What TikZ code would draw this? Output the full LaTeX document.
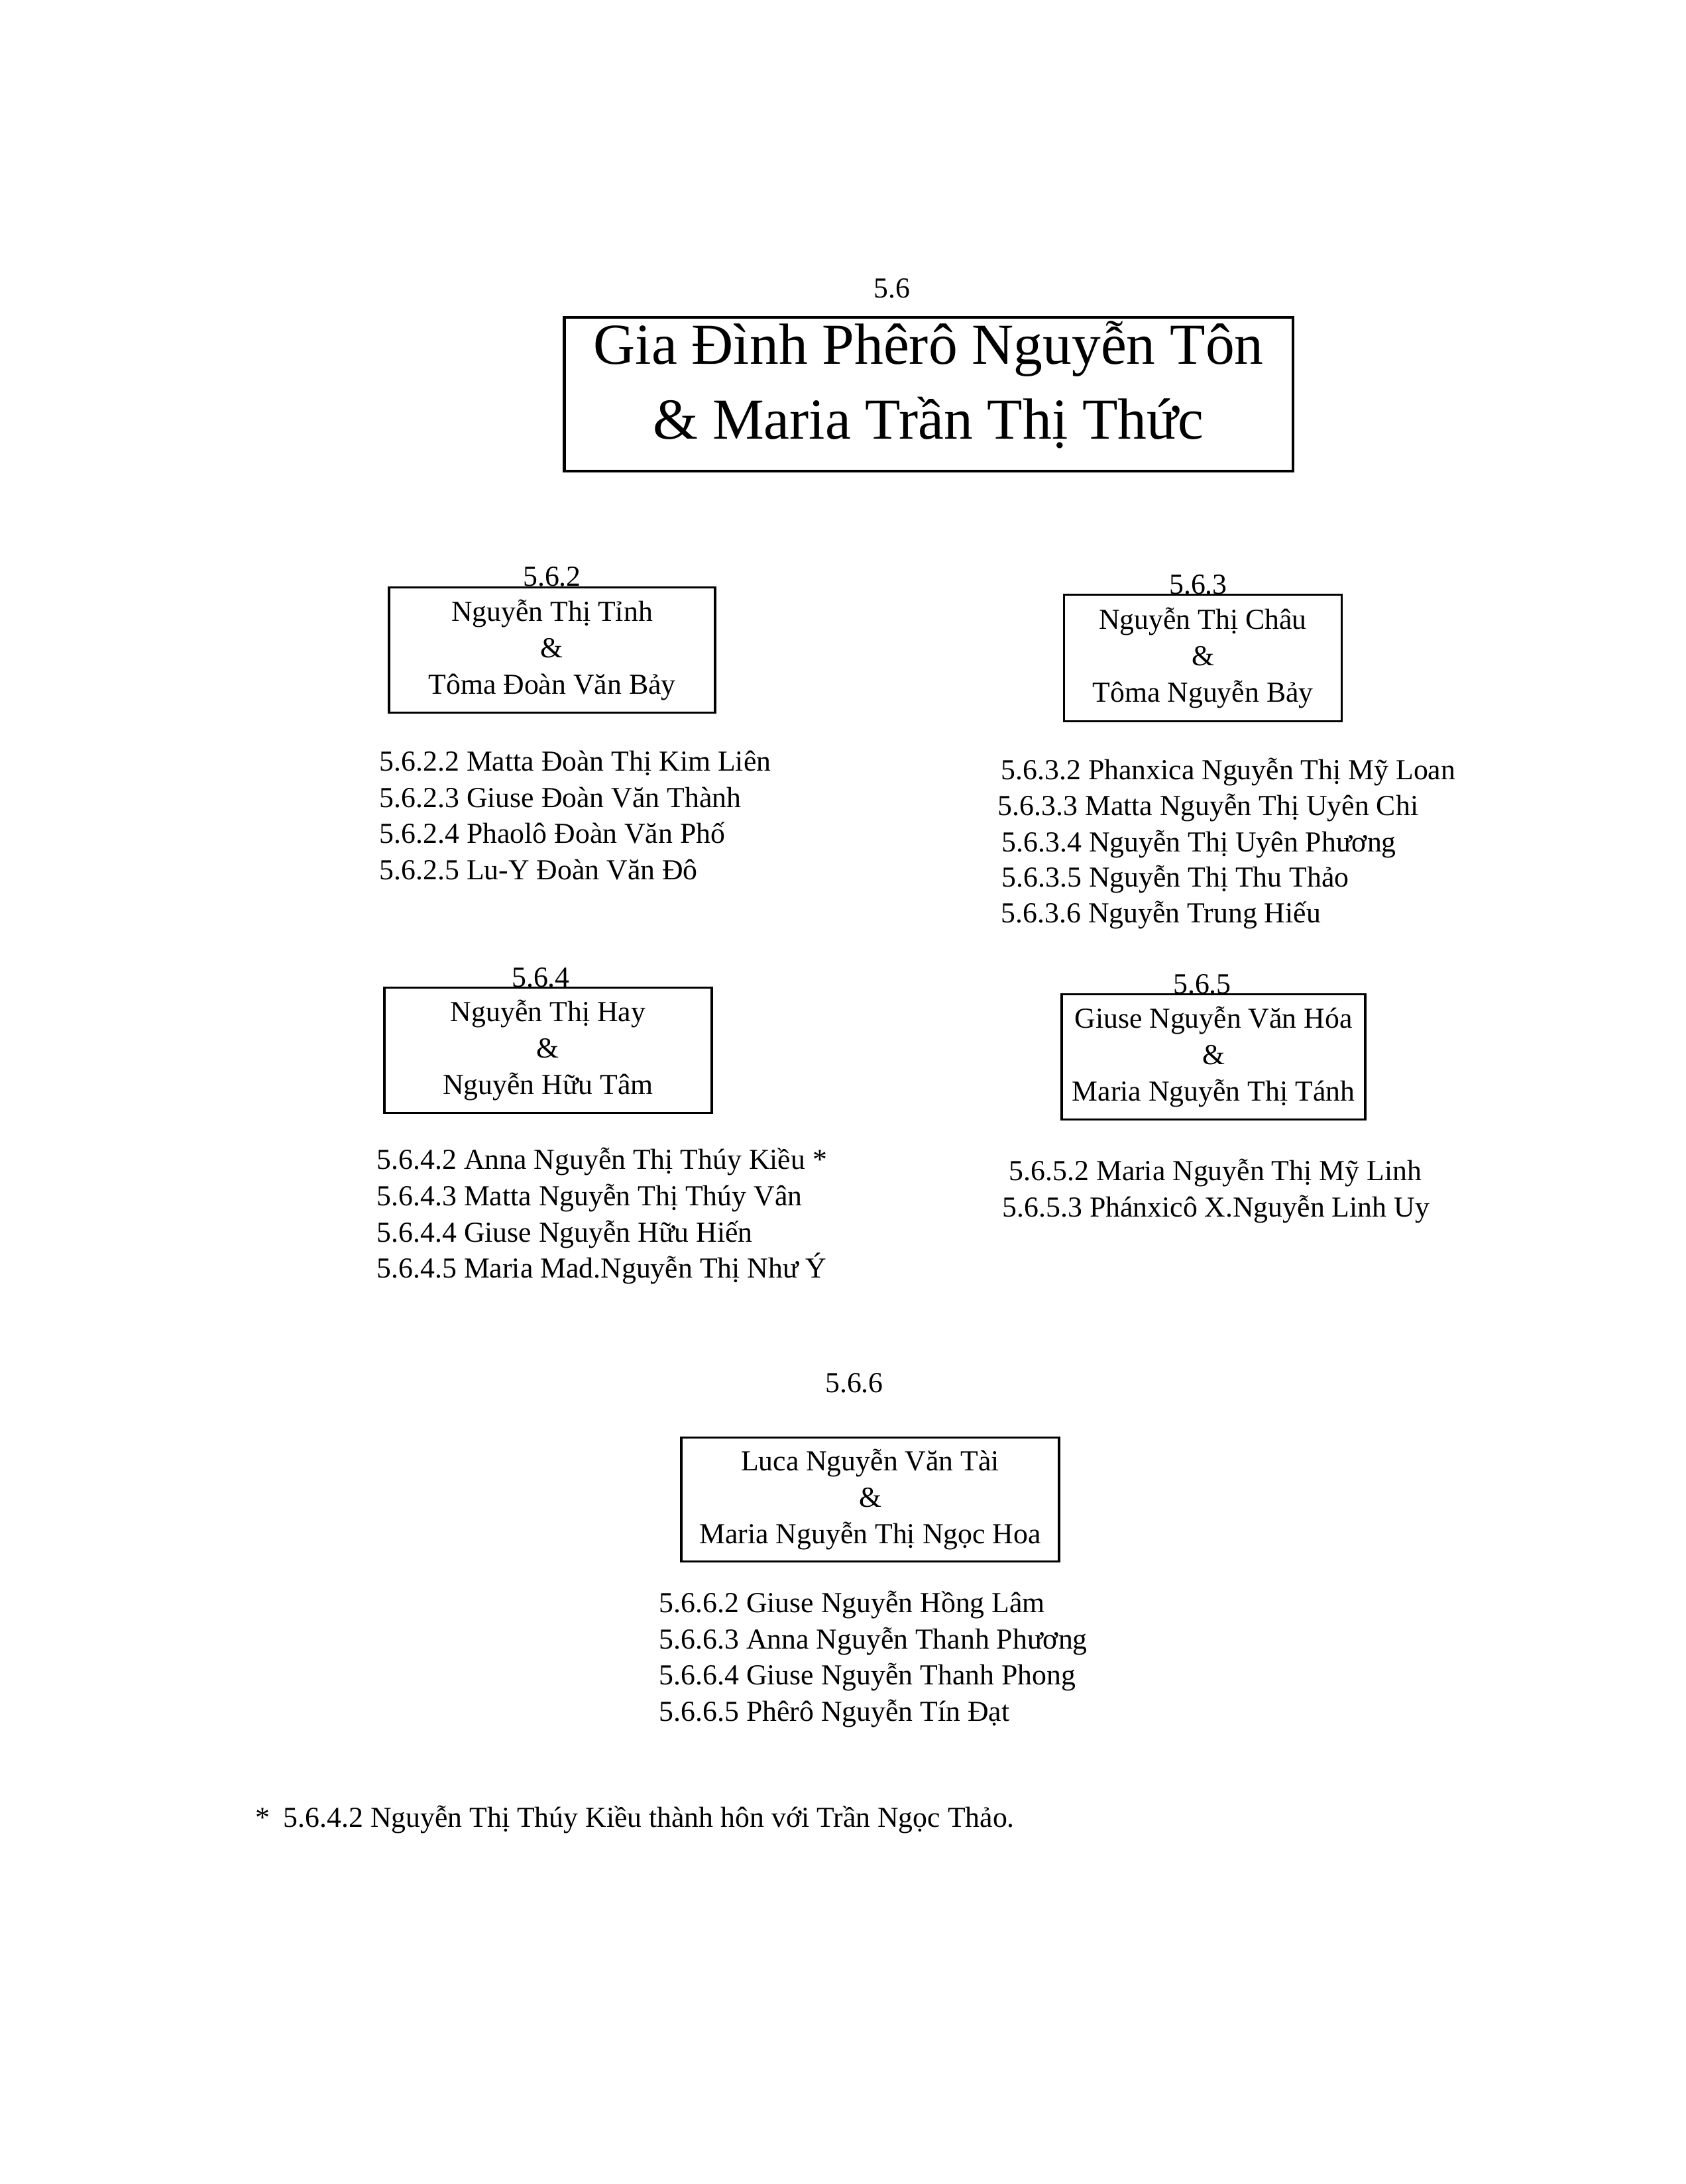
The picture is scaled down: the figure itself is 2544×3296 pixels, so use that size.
\documentclass[tikz,border=0pt]{standalone}
\usepackage{fontspec}
\setmainfont{Liberation Serif}
\begin{document}
\begin{tikzpicture}[x=0.24pt,y=-0.24pt,
  txt/.style={font=\fontsize{10.5}{13.1}\selectfont, inner sep=0pt},
  fambox/.style={draw, line width=0.9pt, rectangle, inner sep=0pt, align=center,
    font=\fontsize{10.5}{13.1}\selectfont},
  lbl/.style={txt, anchor=base},
  item/.style={txt, anchor=base west}]
\useasboundingbox (0,0) rectangle (2544,3296);
\fill[white] (0,0) rectangle (2544,3296);

% title
\node[lbl] (t56) at (1346,450) {5.6};
\node[draw, line width=1pt, rectangle, inner sep=0pt,
  minimum width=263.8pt, minimum height=55.7pt] (title) at (1401,595) {};
\node[align=center, inner sep=0pt, font=\fontsize{21}{27}\selectfont] (titletext) at (1401,581)
  {Gia Đình Phêrô Nguyễn Tôn\\\& Maria Trần Thị Thức};

% 5.6.2
\node[fambox, minimum width=118.1pt, minimum height=45.4pt] (b562) at (833,981)
  {Nguyễn Thị Tỉnh\\\&\\Tôma Đoàn Văn Bảy};
\node[lbl] (n562) at (833,884) {5.6.2};
\node[item] (c5622) at (572,1163) {5.6.2.2 Matta Đoàn Thị Kim Liên};
\node[item] (c5623) at (572,1218) {5.6.2.3 Giuse Đoàn Văn Thành};
\node[item] (c5624) at (572,1272) {5.6.2.4 Phaolô Đoàn Văn Phố};
\node[item] (c5625) at (572,1327) {5.6.2.5 Lu-Y Đoàn Văn Đô};

% 5.6.3
\node[fambox, minimum width=100.6pt, minimum height=45.8pt] (b563) at (1815,993)
  {Nguyễn Thị Châu\\\&\\Tôma Nguyễn Bảy};
\node[lbl] (n563) at (1808,896) {5.6.3};
\node[item] (c5632) at (1510,1176) {5.6.3.2 Phanxica Nguyễn Thị Mỹ Loan};
\node[item] (c5633) at (1505,1230) {5.6.3.3 Matta Nguyễn Thị Uyên Chi};
\node[item] (c5634) at (1511,1285) {5.6.3.4 Nguyễn Thị Uyên Phương};
\node[item] (c5635) at (1511,1338) {5.6.3.5 Nguyễn Thị Thu Thảo};
\node[item] (c5636) at (1510,1392) {5.6.3.6 Nguyễn Trung Hiếu};

% 5.6.4
\node[fambox, minimum width=118.6pt, minimum height=45.4pt] (b564) at (827,1585)
  {Nguyễn Thị Hay\\\&\\Nguyễn Hữu Tâm};
\node[lbl] (n564) at (816,1489) {5.6.4};
\node[item] (c5642) at (568,1764) {5.6.4.2 Anna Nguyễn Thị Thúy Kiều *};
\node[item] (c5643) at (568,1819) {5.6.4.3 Matta Nguyễn Thị Thúy Vân};
\node[item] (c5644) at (568,1874) {5.6.4.4 Giuse Nguyễn Hữu Hiến};
\node[item] (c5645) at (568,1928) {5.6.4.5 Maria Mad.Nguyễn Thị Như Ý};

% 5.6.5
\node[fambox, minimum width=109.9pt, minimum height=45.4pt] (b565) at (1831,1595)
  {Giuse Nguyễn Văn Hóa\\\&\\Maria Nguyễn Thị Tánh};
\node[lbl] (n565) at (1814,1499) {5.6.5};
\node[item] (c5652) at (1522,1781) {5.6.5.2 Maria Nguyễn Thị Mỹ Linh};
\node[item] (c5653) at (1512,1836) {5.6.5.3 Phánxicô X.Nguyễn Linh Uy};

% 5.6.6
\node[lbl] (n566) at (1289,2101) {5.6.6};
\node[fambox, minimum width=136.8pt, minimum height=44.9pt] (b566) at (1313,2263)
  {Luca Nguyễn Văn Tài\\\&\\Maria Nguyễn Thị Ngọc Hoa};
\node[item] (c5662) at (994,2433) {5.6.6.2 Giuse Nguyễn Hồng Lâm};
\node[item] (c5663) at (994,2488) {5.6.6.3 Anna Nguyễn Thanh Phương};
\node[item] (c5664) at (994,2542) {5.6.6.4 Giuse Nguyễn Thanh Phong};
\node[item] (c5665) at (994,2597) {5.6.6.5 Phêrô Nguyễn Tín Đạt};

% footnote
\node[item] (star) at (385,2757) {*};
\node[item] (foot) at (427,2757) {5.6.4.2 Nguyễn Thị Thúy Kiều thành hôn với Trần Ngọc Thảo.};
\end{tikzpicture}
\end{document}
